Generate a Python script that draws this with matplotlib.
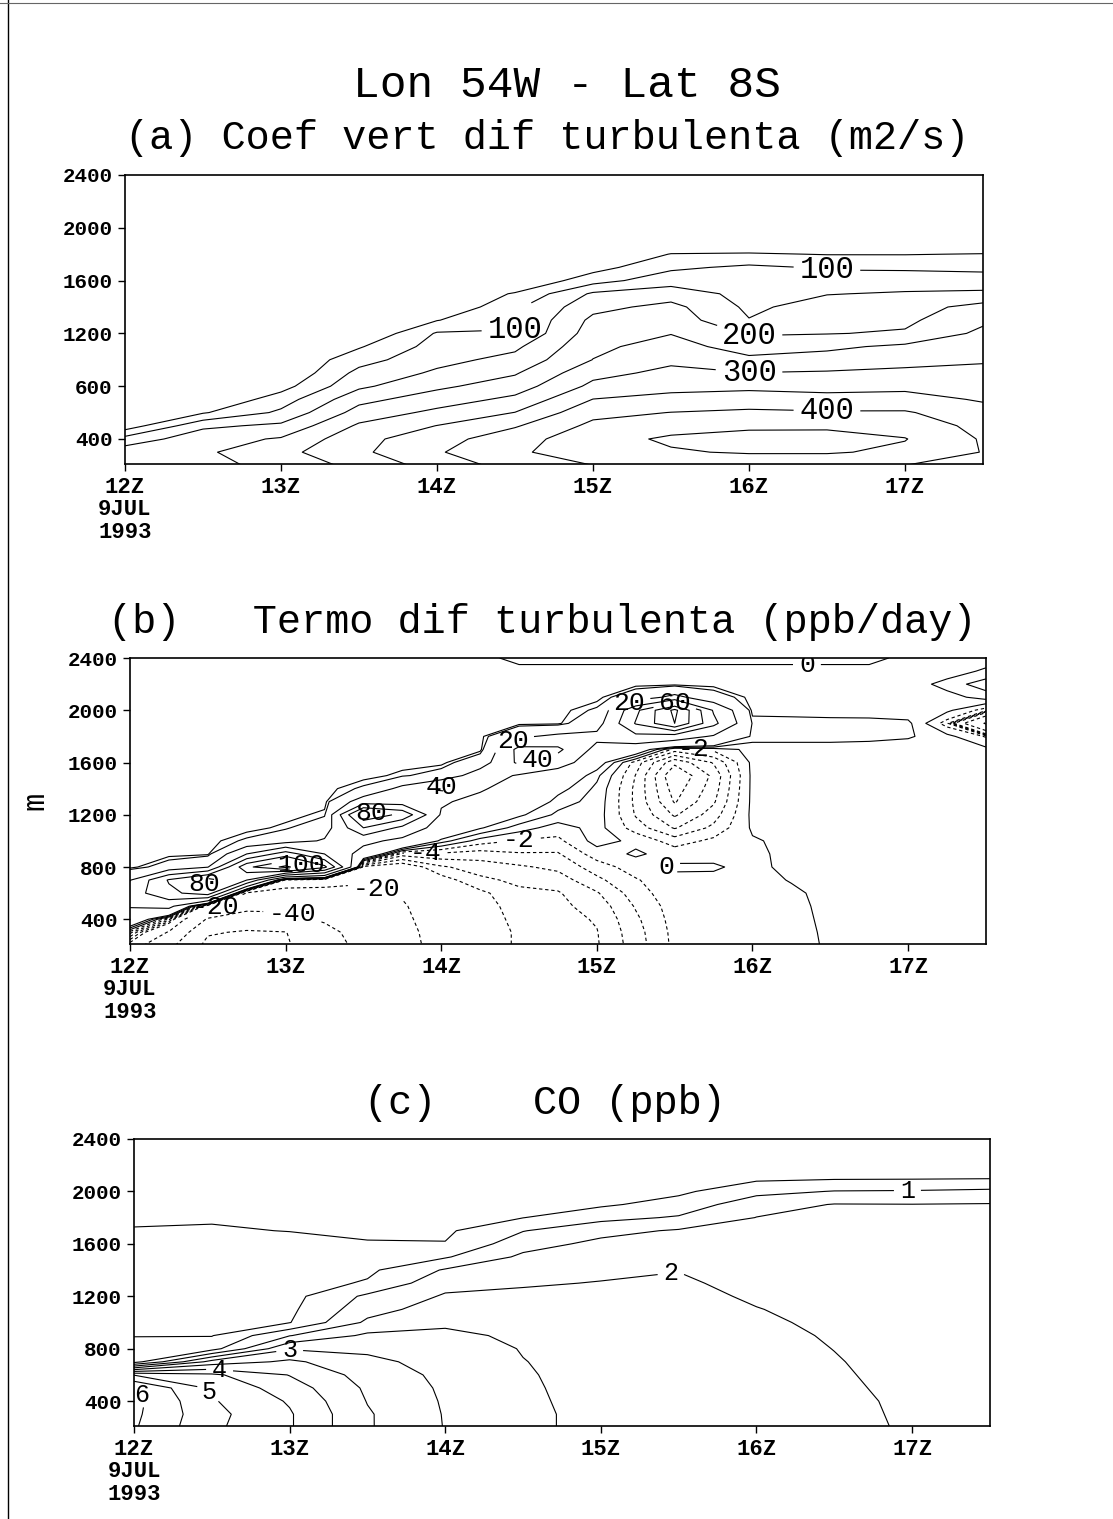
import numpy as np
import matplotlib
matplotlib.use("Agg")
import matplotlib.pyplot as plt
from matplotlib.lines import Line2D

plt.rcParams['font.family'] = ['Liberation Mono', 'DejaVu Sans Mono']
plt.rcParams['lines.dashed_pattern'] = [3.0, 2.5]

# model levels (m), shared by the three panels
heights = [200, 300, 400, 500, 600, 700, 800, 900, 1000, 1100, 1200, 1300,
           1400, 1500, 1600, 1700, 1800, 1900, 2000, 2100, 2200, 2300, 2400]

# output times (hours UTC, 9 JUL 1993)
hours_half = [12.0, 12.5, 13.0, 13.5, 14.0, 14.5, 15.0, 15.5, 16.0, 16.5, 17.0, 17.5]
hours_quarter = [12.0, 12.25, 12.5, 12.75, 13.0, 13.25, 13.5, 13.75, 14.0, 14.25, 14.5, 14.75,
                 15.0, 15.25, 15.5, 15.75, 16.0, 16.25, 16.5, 16.75, 17.0, 17.25, 17.5]

# (a) Kz (m2/s), one profile per time in hours_half
kz_profiles = [
    [175, 178, 120, 20, 0, 0, 0, 0, 0, 0, 0, 0, 0, 0, 0, 0, 0, 0, 0, 0, 0, 0, 0],
    [185, 192, 180, 140, 45, 0, 0, 0, 0, 0, 0, 0, 0, 0, 0, 0, 0, 0, 0, 0, 0, 0, 0],
    [215, 235, 205, 160, 110, 75, 30, 0, 0, 0, 0, 0, 0, 0, 0, 0, 0, 0, 0, 0, 0, 0, 0],
    [265, 290, 285, 258, 220, 185, 140, 115, 80, 45, 0, 0, 0, 0, 0, 0, 0, 0, 0, 0, 0, 0, 0],
    [320, 345, 330, 301, 262, 225, 190, 158, 135, 120, 105, 48, 0, 0, 0, 0, 0, 0, 0, 0, 0, 0, 0],
    [370, 392, 380, 345, 301, 262, 225, 195, 165, 140, 101.5, 96, 90, 55, 0, 0, 0, 0, 0, 0, 0, 0, 0],
    [400, 428, 430, 412, 385, 351, 312, 285, 251, 238, 225, 212, 185, 158, 80, 30, 0, 0, 0, 0, 0, 0, 0],
    [405, 445, 458, 430, 401, 365, 335, 312, 290, 272, 248, 230, 215, 175, 130, 90, 52, 0, 0, 0, 0, 0, 0],
    [410, 455, 470, 440, 410, 370, 340, 301, 262, 225, 195, 152, 140, 135, 130, 110, 55, 0, 0, 0, 0, 0, 0],
    [410, 455, 472, 440, 405, 365, 335, 305, 270, 240, 198, 185, 172, 148, 120, 95, 48, 0, 0, 0, 0, 0, 0],
    [400, 440, 452, 430, 405, 368, 338, 310, 285, 260, 205, 190, 178, 155, 125, 92, 48, 0, 0, 0, 0, 0, 0],
    [385, 398, 395, 385, 368, 345, 330, 312, 295, 282, 262, 240, 218, 160, 122, 88, 52, 0, 0, 0, 0, 0, 0],
]

# (b) turbulent diffusion term (ppb/day), one profile per time in hours_quarter
termo_profiles = [
    [-12, -3, 12, 21, 30, 19, 0.5, 0.5, 0.5, 0.5, 0.5, 0.5, 0.5, 0.5, 0.5, 0.5, 0.5, 0.5, 0.5, 0.5, 0.5, 0.5, 0.5],
    [-35, -21, -5, 25, 55, 62, 8, 0.5, 0.5, 0.5, 0.5, 0.5, 0.5, 0.5, 0.5, 0.5, 0.5, 0.5, 0.5, 0.5, 0.5, 0.5, 0.5],
    [-65, -58, -42, -15, 70, 88, 19, 1, 0.5, 0.5, 0.5, 0.5, 0.5, 0.5, 0.5, 0.5, 0.5, 0.5, 0.5, 0.5, 0.5, 0.5, 0.5],
    [-70, -62, -48, -35, -22, 60, 95, 40, 5, 0.5, 0.5, 0.5, 0.5, 0.5, 0.5, 0.5, 0.5, 0.5, 0.5, 0.5, 0.5, 0.5, 0.5],
    [-62, -60.5, -45, -36, -25, -12, 125, 70, 12, 3, 0.5, 0.5, 0.5, 0.5, 0.5, 0.5, 0.5, 0.5, 0.5, 0.5, 0.5, 0.5, 0.5],
    [-48, -45, -38, -32, -24, -15, 85, 40, 22, 11, 3, 0.5, 0.5, 0.5, 0.5, 0.5, 0.5, 0.5, 0.5, 0.5, 0.5, 0.5, 0.5],
    [-35, -33, -30, -27, -22, -19, -11, 12, 25, 60, 95, 30, 5, 0.5, 0.5, 0.5, 0.5, 0.5, 0.5, 0.5, 0.5, 0.5, 0.5],
    [-24, -23, -22, -21, -19, -16, -12, -5, 15, 35, 75, 30, 25, 3, 0.5, 0.5, 0.5, 0.5, 0.5, 0.5, 0.5, 0.5, 0.5],
    [-16, -16, -15, -14, -13, -11, -8.3, -4.5, 3, 11, 18, 22, 45, 8, 0.5, 0.5, 0.5, 0.5, 0.5, 0.5, 0.5, 0.5, 0.5],
    [-12, -12, -11.5, -11, -10.5, -8.5, -7, -5, -1, 4.3, 9, 15, 22, 30, 11, 0.5, 0.5, 0.5, 0.5, 0.5, 0.5, 0.5, 0.5],
    [-9.5, -9.5, -9.2, -9, -8.5, -7.5, -6.3, -4.2, -2.2, 1, 4.5, 8, 12, 18, 44, 46, 17, 0.5, 0.5, 0.5, 0.5, 0.5, -0.5],
    [-9, -9, -8.8, -8.5, -8.2, -7, -5.5, -4.2, -2.5, -1, 1.5, 3, 5, 8, 30, 44, 24, 1, 0.5, 0.5, 0.5, 0.5, -0.5],
    [-8.2, -8.1, -7.8, -7.2, -6.2, -4.5, -3, -1, 0.8, 0.8, 1, 1.2, 1.5, 2.5, 6, 14, 25, 12, 5, 0.5, 0.5, 0.5, -0.5],
    [-5, -4.8, -4.4, -3.8, -3, -2.2, -1, 0.3, -0.5, -3, -4.2, -4.5, -4.5, -4.1, -3, 8, 35, 61.5, 55, 10, 0.5, 0.5, -0.5],
    [-1.5, -1.4, -1.2, -1, -0.6, -0.5, 0.3, -0.8, -3, -6.2, -8.3, -10.2, -11, -12, -9.5, -3, 30, 100, 105, 25, 0.5, 0.5, -0.5],
    [-1, -1, -0.9, -0.8, -0.6, -0.4, 0.2, -0.5, -1.5, -3.5, -5, -6.3, -7, -7.5, -5.8, -1.5, 18, 45, 38, 8, 0.5, 0.5, -0.5],
    [-1, -1, -0.9, -0.8, -0.7, -0.6, -0.5, -0.4, -0.2, 0.3, 0.5, 0.5, 0.5, 0.5, 0.5, 0.8, 3, 3.5, 0.8, 0.5, 0.5, 0.5, -0.5],
    [-0.8, -0.8, -0.7, -0.5, -0.3, 0.1, 0.5, 0.5, 0.5, 0.5, 0.5, 0.5, 0.5, 0.5, 0.5, 0.8, 3, 3.2, 0.8, 0.5, 0.5, 0.5, -0.5],
    [0.3, 0.4, 0.5, 0.5, 0.5, 0.5, 0.5, 0.5, 0.5, 0.5, 0.5, 0.5, 0.5, 0.5, 0.5, 0.8, 3, 3, 0.7, 0.5, 0.5, 0.5, -0.5],
    [0.5, 0.5, 0.5, 0.5, 0.5, 0.5, 0.5, 0.5, 0.5, 0.5, 0.5, 0.5, 0.5, 0.5, 0.5, 0.7, 2.8, 2.9, 0.7, 0.5, 0.5, 0.5, -0.5],
    [0.5, 0.5, 0.5, 0.5, 0.5, 0.5, 0.5, 0.5, 0.5, 0.5, 0.5, 0.5, 0.5, 0.5, 0.5, 0.6, 2.3, 2.5, 0.6, 0.5, 0.5, 0.5, 0.5],
    [0.5, 0.5, 0.5, 0.5, 0.5, 0.5, 0.5, 0.5, 0.5, 0.5, 0.5, 0.5, 0.5, 0.5, 0.5, 0.5, 0.6, -3, 0.5, 1, 3, 0.5, 0.5],
    [0.5, 0.5, 0.5, 0.5, 0.5, 0.5, 0.5, 0.5, 0.5, 0.5, 0.5, 0.5, 0.5, 0.5, 0.5, 0.5, -2.2, -42, -3, 3, 5, 2.5, 0.5],
]

# (c) CO (ppb), one profile per time in hours_half
co_profiles = [
    [6.05, 6.1, 6.15, 6.05, 4.98, 1.3, 1.2, 0.98, 0.9, 0.85, 0.8, 0.75, 0.7, 0.65, 0.6, 0.52, 0.45, 0.4, 0.35, 0.3, 0.28, 0.25, 0.22],
    [5.1, 5.15, 5.05, 4.9, 4.6, 3.2, 1.3, 0.98, 0.92, 0.87, 0.82, 0.77, 0.72, 0.67, 0.62, 0.54, 0.46, 0.41, 0.36, 0.32, 0.29, 0.26, 0.23],
    [4.55, 4.55, 4.45, 4.25, 3.98, 3.6, 2.95, 1.98, 0.98, 0.9, 0.84, 0.79, 0.74, 0.69, 0.63, 0.49, 0.45, 0.41, 0.37, 0.33, 0.29, 0.26, 0.23],
    [3.55, 3.55, 3.48, 3.42, 3.3, 3.12, 2.9, 2.6, 2.1, 1.8, 1.6, 1.05, 0.9, 0.8, 0.52, 0.45, 0.42, 0.39, 0.36, 0.32, 0.29, 0.26, 0.23],
    [2.98, 2.97, 2.95, 2.92, 2.88, 2.82, 2.72, 2.6, 2.42, 2.25, 2.05, 1.85, 1.55, 0.95, 0.52, 0.42, 0.4, 0.38, 0.35, 0.32, 0.29, 0.26, 0.23],
    [2.56, 2.56, 2.55, 2.54, 2.53, 2.51, 2.48, 2.42, 2.35, 2.25, 2.1, 1.95, 1.78, 1.6, 1.3, 0.98, 0.49, 0.4, 0.36, 0.32, 0.29, 0.26, 0.23],
    [2.42, 2.42, 2.41, 2.4, 2.38, 2.36, 2.33, 2.29, 2.24, 2.18, 2.1, 2.02, 1.9, 1.78, 1.62, 1.35, 0.85, 0.42, 0.37, 0.33, 0.3, 0.27, 0.24],
    [2.3, 2.3, 2.29, 2.28, 2.27, 2.25, 2.23, 2.2, 2.17, 2.13, 2.09, 2.05, 1.99, 1.9, 1.75, 1.55, 1.05, 0.7, 0.4, 0.34, 0.3, 0.27, 0.24],
    [2.2, 2.19, 2.18, 2.17, 2.16, 2.14, 2.12, 2.09, 2.05, 2.01, 1.96, 1.9, 1.83, 1.75, 1.67, 1.58, 1.51, 1.3, 0.85, 0.4, 0.32, 0.28, 0.25],
    [2.1, 2.09, 2.08, 2.06, 2.04, 2.02, 1.995, 1.97, 1.94, 1.91, 1.87, 1.83, 1.78, 1.73, 1.68, 1.62, 1.56, 1.52, 1.02, 0.45, 0.33, 0.28, 0.25],
    [1.96, 1.95, 1.94, 1.92, 1.9, 1.88, 1.86, 1.83, 1.8, 1.77, 1.73, 1.69, 1.65, 1.61, 1.58, 1.55, 1.53, 1.51, 1.04, 0.46, 0.33, 0.28, 0.25],
    [1.9, 1.89, 1.88, 1.87, 1.85, 1.83, 1.81, 1.79, 1.76, 1.73, 1.7, 1.67, 1.64, 1.61, 1.59, 1.57, 1.55, 1.53, 1.1, 0.48, 0.33, 0.28, 0.25],
]

kz_levels = [50, 100, 150, 200, 250, 300, 350, 400, 450]
termo_levels = [-60, -40, -20, -10, -8, -6, -4, -2, 0, 2, 4, 20, 40, 60, 80, 100, 120]
co_levels = [0.5, 1.0, 1.5, 2.0, 2.5, 3.0, 3.5, 4.0, 4.5, 5.0, 5.5, 6.0]

# where the contour labels sit (level, (hour, height))
kz_labels = [(100, (14.5, 1225)), (100, (16.5, 1690)), (200, (16.0, 1185)),
             (300, (16.0, 905)), (400, (16.5, 630))]
termo_labels = [(80, (12.47, 660)), (100, (13.1, 830)), (80, (13.55, 1200)),
                (40, (14.0, 1440)), (40, (14.62, 1610)), (60, (15.5, 2050)),
                (20, (14.45, 1790)), (20, (15.2, 2080)), (-20, (13.6, 680)),
                (-20, (12.55, 490)), (-40, (13.05, 460)), (-4, (13.9, 900)),
                (-2, (14.5, 1006)), (-2, (15.62, 1700)), (0, (15.45, 800)),
                (0, (16.35, 2350))]
co_labels = [(1.0, (16.97, 2007)), (2.0, (15.45, 1390)), (3.0, (13.0, 793)),
             (4.0, (12.55, 640)), (5.0, (12.45, 440)), (6.0, (12.05, 450))]

xtick_hours = [12, 13, 14, 15, 16, 17]
xtick_labels = ['12Z\n9JUL\n1993', '13Z', '14Z', '15Z', '16Z', '17Z']
ytick_heights = [400, 800, 1200, 1600, 2000, 2400]
ytick_labels_a = ['400', '600', '1200', '1600', '2000', '2400']
ytick_labels = ['400', '800', '1200', '1600', '2000', '2400']


def style_axes(ax, ylabels):
    ax.set_xlim(12, 17.5)
    ax.set_ylim(210, 2400)
    ax.set_xticks(xtick_hours)
    ax.set_xticklabels(xtick_labels, fontsize=16, fontweight='bold', linespacing=1.1)
    ax.set_yticks(ytick_heights)
    ax.set_yticklabels(ylabels, fontsize=15, fontweight='bold')
    ax.tick_params(direction='out', length=5, width=1, pad=4)
    for s in ax.spines.values():
        s.set_linewidth(1.2)


def draw_field(ax, x, z, levels, labels, size):
    # one ContourSet per level, so each label lands on the level it belongs to
    sets = {}
    for lev in levels:
        ls = 'dashed' if lev < 0 else 'solid'
        sets[lev] = ax.contour(x, heights, z, levels=[lev], colors='black',
                               linewidths=0.8, linestyles=ls)
    for lev, pos in labels:
        texts = sets[lev].clabel(manual=[pos], fmt=lambda v: f'{v:g}',
                                 fontsize=size, inline=True, inline_spacing=6)
        for t in texts:
            t.set_rotation(0)


fig = plt.figure(figsize=(11.13, 15.19), dpi=100)

ax_a = fig.add_axes([0.1123, 0.6945, 0.7709, 0.1903])
ax_b = fig.add_axes([0.1168, 0.3785, 0.7690, 0.1883])
ax_c = fig.add_axes([0.1204, 0.0612, 0.7690, 0.1890])

style_axes(ax_a, ytick_labels_a)
style_axes(ax_b, ytick_labels)
style_axes(ax_c, ytick_labels)
ax_b.set_ylabel('m', fontsize=22, labelpad=12)

draw_field(ax_a, hours_half, np.array(kz_profiles).T, kz_levels, kz_labels, 22)
draw_field(ax_b, hours_quarter, np.array(termo_profiles).T, termo_levels, termo_labels, 19)
draw_field(ax_c, hours_half, np.array(co_profiles).T, co_levels, co_labels, 18)

# titles
fig.text(0.509, 0.944, 'Lon 54W - Lat 8S', ha='center', va='center', fontsize=32)
fig.text(0.4915, 0.909, '(a) Coef vert dif turbulenta (m2/s)', ha='center', va='center', fontsize=29)
fig.text(0.487, 0.5905, '(b)   Termo dif turbulenta (ppb/day)', ha='center', va='center', fontsize=29)
fig.text(0.490, 0.2739, '(c)    CO (ppb)', ha='center', va='center', fontsize=29)

# scanned page edges
fig.add_artist(Line2D([0.007, 0.007], [0.0, 1.0], transform=fig.transFigure, color='black', lw=1))
fig.add_artist(Line2D([0.0, 1.0], [0.998, 0.998], transform=fig.transFigure, color='0.4', lw=0.8))

fig.savefig('out.png', dpi=100)
